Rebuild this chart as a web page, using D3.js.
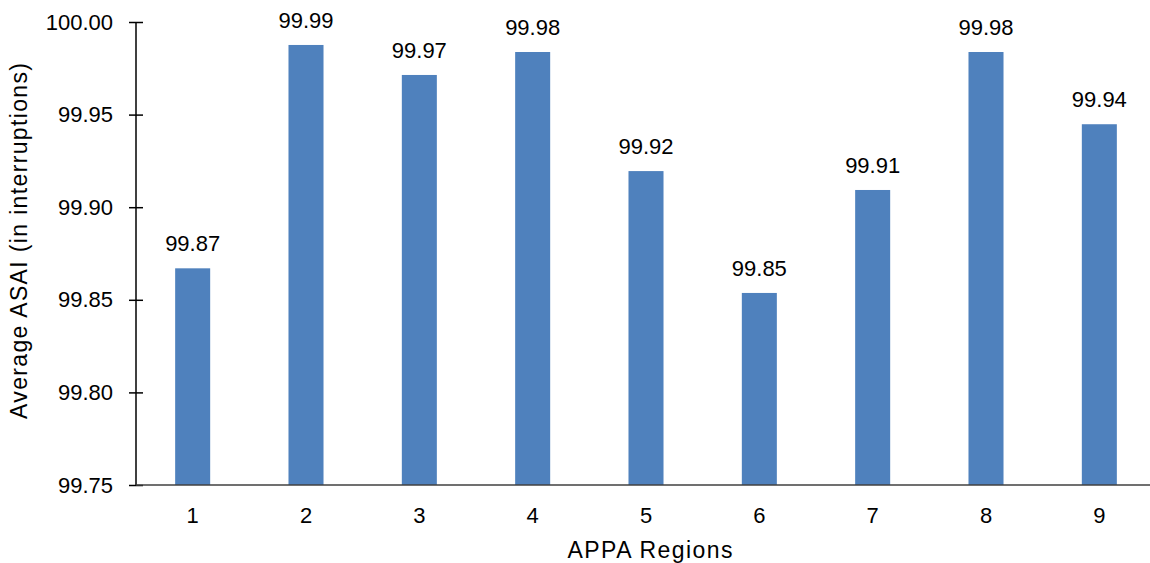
<!DOCTYPE html>
<html>
<head>
<meta charset="utf-8">
<script src="https://cdn.jsdelivr.net/npm/d3@7"></script>
<style>
  html, body { margin: 0; padding: 0; background: #fff; }
  svg { display: block; }
  text { font-family: Arial, "Liberation Sans", sans-serif; fill: #000; }
</style>
</head>
<body>
<svg id="chart" width="1150" height="563"></svg>
<script>
const regions = ["1", "2", "3", "4", "5", "6", "7", "8", "9"];
const asai = [99.867, 99.9876, 99.9714, 99.9838, 99.9195, 99.8537, 99.9093, 99.9838, 99.9448];
const yTicks = [99.75, 99.80, 99.85, 99.90, 99.95, 100.00];
const xTitle = "APPA Regions";
const yTitle = "Average ASAI (in interruptions)";

const svg = d3.select("#chart");
const mLeft = 136, mRight = 1156, mTop = 22, mBottom = 485;

const x = d3.scaleBand().domain(regions).range([mLeft, mRight])
  .paddingInner(0.691).paddingOuter(0.3455);
const y = d3.scaleLinear().domain([99.75, 100]).range([mBottom, mTop]);

// bars
svg.append("g").selectAll("rect").data(asai).join("rect")
  .attr("x", (d, i) => x(regions[i]))
  .attr("y", d => y(d))
  .attr("width", x.bandwidth())
  .attr("height", d => mBottom - y(d))
  .attr("fill", "#4F81BD");

// data labels
svg.append("g").selectAll("text").data(asai).join("text")
  .attr("x", (d, i) => x(regions[i]) + x.bandwidth() / 2)
  .attr("y", d => y(d) - 17)
  .attr("text-anchor", "middle")
  .style("font-size", "22px")
  .text(d => d.toFixed(2));

// y axis (cross tick marks)
const yAxis = d3.axisLeft(y).tickValues(yTicks).tickFormat(d3.format(".2f"))
  .tickSize(7).tickPadding(16);
const gy = svg.append("g").attr("transform", `translate(${mLeft},0)`).call(yAxis);
gy.select(".domain").attr("d", `M0,${mTop}V${mBottom}`).attr("stroke", "#000").attr("stroke-width", 1.5);
gy.selectAll(".tick line").attr("x1", 7).attr("x2", -7).attr("stroke", "#000").attr("stroke-width", 1.5);
gy.selectAll(".tick text").style("font-size", "22px").attr("font-family", null);

// x axis
const xAxis = d3.axisBottom(x).tickSize(0).tickPadding(22);
const gx = svg.append("g").attr("transform", `translate(0,${mBottom})`).call(xAxis);
gx.select(".domain").attr("d", `M${mLeft},0H1150`).attr("stroke", "#404040").attr("stroke-width", 1.5);
gx.selectAll(".tick text").style("font-size", "22px").attr("font-family", null);

// axis titles
svg.append("text")
  .attr("x", 650)
  .attr("y", 558)
  .attr("text-anchor", "middle")
  .attr("textLength", 165)
  .style("font-size", "23px")
  .text(xTitle);

svg.append("text")
  .attr("transform", `translate(27,241) rotate(-90)`)
  .attr("text-anchor", "middle")
  .attr("textLength", 356)
  .style("font-size", "23px")
  .text(yTitle);
</script>
</body>
</html>
